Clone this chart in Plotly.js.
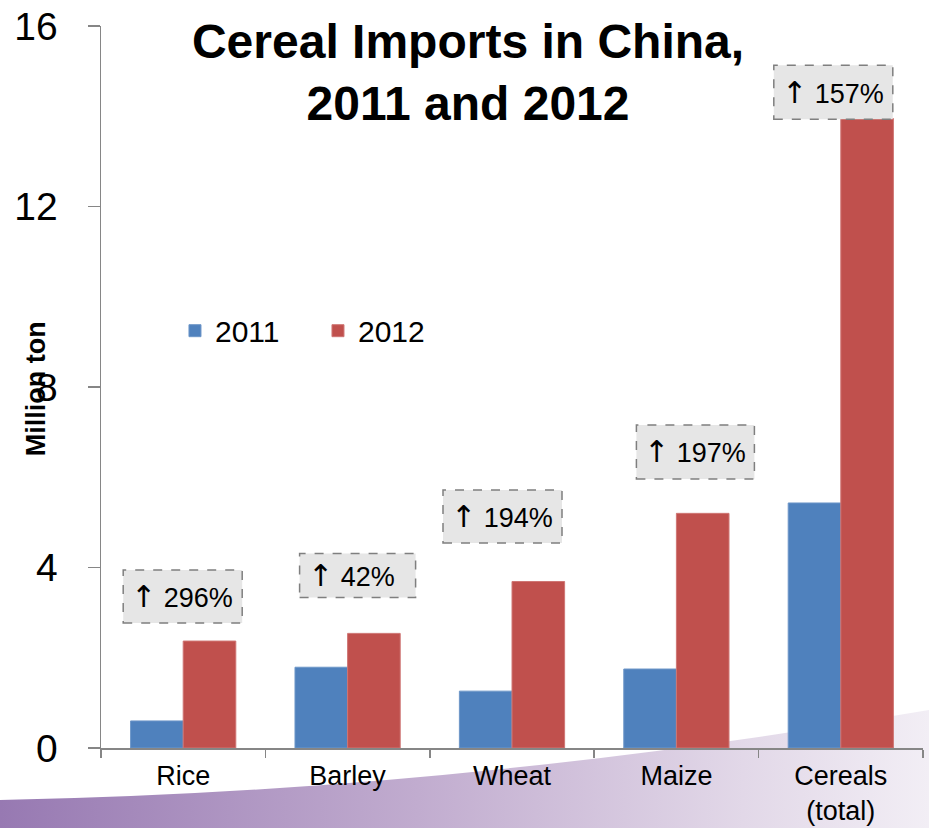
<!DOCTYPE html>
<html>
<head>
<meta charset="utf-8">
<script src="https://cdn.plot.ly/plotly-3.0.1.min.js"></script>
<style>html,body{margin:0;padding:0;background:#fff;}#chart{width:929px;height:828px;}</style>
</head>
<body>
<div id="chart"></div>
<script>
// ---- data ----
const categories = ['Rice', 'Barley', 'Wheat', 'Maize', 'Cereals<br>(total)'];
const years = ['2011', '2012'];
const imports2011 = [0.60, 1.79, 1.26, 1.75, 5.43];
const imports2012 = [2.37, 2.54, 3.69, 5.20, 13.95];
const changeLabels = ['296%', '42%', '194%', '197%', '157%'];
const yTicks = [0, 4, 8, 12, 16];

// ---- label box placement (layout only) ----
const boxCenterY = [3.36, 3.82, 5.13, 6.56, 14.53];
const boxLeft = [-60, -48, -69, -40, -67];
const boxWidth = [119, 116, 119, 118, 119];
const boxHeight = [53, 44, 53, 54, 54];

const FONT = 'Liberation Sans, Arial, sans-serif';
const ARROW = '<span style="font-family:DejaVu Sans;font-size:30px">\u2191</span> ';

const traces = [
  {type: 'bar', name: years[0], x: categories, y: imports2011,
   marker: {color: '#4f81bd', line: {color: '#6d96c8', width: 1}}},
  {type: 'bar', name: years[1], x: categories, y: imports2012,
   marker: {color: '#c0504d', line: {color: '#cf7674', width: 1}}}
];

const shapes = categories.map((c, i) => ({
  type: 'rect', xref: 'x', yref: 'y',
  xsizemode: 'pixel', xanchor: i, x0: boxLeft[i], x1: boxLeft[i] + boxWidth[i],
  ysizemode: 'pixel', yanchor: boxCenterY[i], y0: -boxHeight[i] / 2, y1: boxHeight[i] / 2,
  fillcolor: '#e6e6e6', line: {color: '#7f7f7f', width: 1.5, dash: 'dash'}, layer: 'above'
}));

const annotations = categories.map((c, i) => ({
  x: i, y: boxCenterY[i], xref: 'x', yref: 'y',
  text: ARROW + changeLabels[i], showarrow: false, xanchor: 'left', yanchor: 'middle',
  xshift: boxLeft[i] + 6, font: {family: FONT, size: 27, color: '#000'}
}));
annotations.push({
  xref: 'paper', yref: 'paper', x: -0.079, y: 0.497, xanchor: 'center', yanchor: 'middle',
  text: '<b>Million ton</b>', textangle: -90, showarrow: false,
  font: {family: FONT, size: 27, color: '#000'}
});

const svg = '<svg xmlns="http://www.w3.org/2000/svg" width="929" height="128" viewBox="0 0 929 128" preserveAspectRatio="none">' +
  '<defs><linearGradient id="g" x1="0" y1="0" x2="1" y2="0">' +
  '<stop offset="0" stop-color="#9779b2"/><stop offset="0.45" stop-color="#c1accf"/>' +
  '<stop offset="0.8" stop-color="#e2d8e8"/><stop offset="1" stop-color="#f2eef5"/></linearGradient></defs>' +
  '<path d="M0,100 Q450,92 929,10 L929,128 L0,128 Z" fill="url(#g)"/></svg>';

const layout = {
  width: 929, height: 828,
  margin: {l: 101, r: 6, t: 26, b: 80},
  paper_bgcolor: '#ffffff', plot_bgcolor: 'rgba(0,0,0,0)',
  font: {family: FONT, color: '#000'},
  title: {
    text: '<b>Cereal Imports in China,<br>2011 and 2012</b>',
    font: {family: FONT, size: 48, color: '#000'},
    xref: 'paper', x: 0.4465, xanchor: 'center',
    yref: 'container', y: 0.93, yanchor: 'top'
  },
  barmode: 'group', bargap: 0.36, bargroupgap: 0,
  showlegend: true,
  legend: {
    orientation: 'h', x: 0.09, xanchor: 'left', y: 0.578, yanchor: 'middle',
    font: {family: FONT, size: 30, color: '#000'}, bgcolor: 'rgba(0,0,0,0)',
    entrywidth: 98, entrywidthmode: 'pixels'
  },
  xaxis: {
    type: 'category', showline: true, linecolor: '#868686', linewidth: 1.5,
    ticks: 'outside', tickson: 'boundaries', ticklen: 8, tickcolor: '#868686', tickwidth: 1.5,
    tickfont: {family: FONT, size: 27, color: '#000'}, ticklabelstandoff: 3,
    showgrid: false, zeroline: false, fixedrange: true
  },
  yaxis: {
    range: [0, 16], tickvals: yTicks, showline: true, linecolor: '#868686', linewidth: 1.5,
    ticks: 'outside', ticklen: 12, tickcolor: '#868686', tickwidth: 1.5,
    tickfont: {family: FONT, size: 39, color: '#000'}, ticklabelstandoff: 22,
    showgrid: false, zeroline: false, fixedrange: true
  },
  shapes: shapes,
  annotations: annotations,
  images: [{
    source: 'data:image/svg+xml;charset=utf-8,' + encodeURIComponent(svg),
    xref: 'paper', yref: 'paper', x: -101 / 822, y: (748 - 700) / 722,
    sizex: 929 / 822, sizey: 128 / 722, xanchor: 'left', yanchor: 'top',
    sizing: 'stretch', layer: 'below'
  }]
};

Plotly.newPlot('chart', traces, layout, {displayModeBar: false, staticPlot: true});
</script>
</body>
</html>
